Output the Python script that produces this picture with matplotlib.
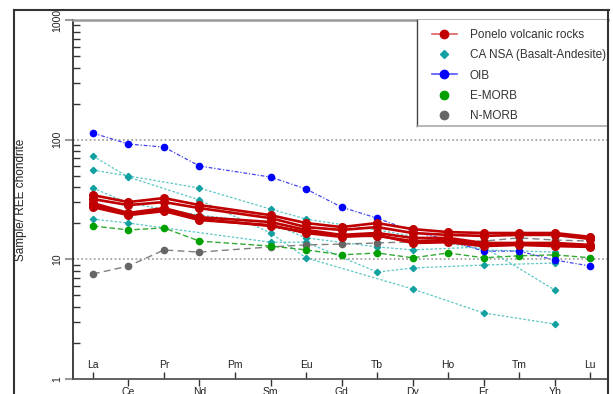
import numpy as np
import matplotlib
matplotlib.use("Agg")
import matplotlib.pyplot as plt
from matplotlib.lines import Line2D
from matplotlib.patches import Rectangle

plt.rcParams['font.family'] = ['Liberation Sans', 'DejaVu Sans']

elements = ["La", "Ce", "Pr", "Nd", "Pm", "Sm", "Eu", "Gd", "Tb", "Dy", "Ho", "Er", "Tm", "Yb", "Lu"]
nan = np.nan

ponelo = [
    [34.4, 30.1, 32.5, 28.4, nan, 23.4, 20.1, 18.6, 20.1, 17.9, 16.9, 16.6, 16.6, 16.6, 15.4],
    [31.9, 28.4, 30.1, 26.8, nan, 22.1, 18.6, 17.6, 18.6, 16.6, 16.0, 15.7, 16.0, 16.0, 14.8],
    [29.5, 24.4, 26.8, 22.5, nan, 20.5, 17.6, 16.0, 16.6, 15.1, 15.1, 13.7, 13.7, 13.7, 13.2],
    [27.3, 23.4, 25.3, 21.3, nan, 19.3, 16.6, 15.4, 16.0, 13.7, 13.9, 12.9, 13.2, 12.9, 12.7],
    [28.4, 23.9, 25.8, 21.7, nan, 19.0, 16.9, 15.7, 15.7, 14.2, 14.5, 13.2, 13.4, 13.2, 12.9],
]

ca_nsa = [
    [72.9, 48.7, nan, 31.3, nan, 16.6, 10.3, nan, nan, 5.65, nan, 3.56, nan, 2.88, nan],
    [55.7, 49.7, nan, 39.4, nan, 26.3, 21.7, nan, 17.6, 15.6, nan, 12.0, nan, 11.5, nan],
    [39.4, 29.5, nan, 23.4, nan, 20.1, 15.1, nan, 12.7, 12.0, nan, 12.7, nan, 5.54, nan],
    [21.7, 20.1, nan, nan, nan, 13.9, 13.9, nan, 7.83, 8.46, nan, 8.96, nan, 9.31, nan],
]

oib = [113.6, 91.9, 86.7, 60.2, nan, 48.7, 38.7, 27.3, 22.1, 17.2, 14.5, 11.7, 11.7, 9.87, 8.79]
emorb = [19.0, 17.6, 18.3, 14.2, nan, 12.9, 12.0, 10.9, 11.3, 10.3, 11.3, 10.3, 10.7, 10.9, 10.3]
nmorb = [7.54, 8.79, 11.96, 11.5, nan, 12.7, 13.2, 13.4, 13.7, 14.0, 14.2, 14.2, 15.1, 14.5, 14.2]

legend_labels = ["Ponelo volcanic rocks", "CA NSA (Basalt-Andesite)", "OIB", "E-MORB", "N-MORB"]

W, H = 613, 394
fig = plt.figure(figsize=(W / 100, H / 100), dpi=100)
ax_l, ax_r, ax_t, ax_b = 73, 608, 20, 379
ax = fig.add_axes([ax_l / W, 1 - ax_b / H, (ax_r - ax_l) / W, (ax_b - ax_t) / H])

x = np.arange(len(elements))


def plot_series(vals, **kw):
    v = np.array(vals, dtype=float)
    m = ~np.isnan(v)
    ax.plot(x[m], v[m], **kw)


teal_line = '#5CC6C6'
teal_mk = '#13A0A0'
for s in ca_nsa:
    plot_series(s, color=teal_line, lw=0.9, ls=(0, (2, 1.5)), marker='D', ms=3.2,
                mfc=teal_mk, mec=teal_mk, zorder=3)

plot_series(nmorb, color='#808080', lw=1.0, ls=(0, (5, 3)), marker='o', ms=4.5,
            mfc='#666666', mec='#666666', zorder=3)
plot_series(emorb, color='#33AA33', lw=1.0, ls=(0, (4, 2)), marker='o', ms=4.5,
            mfc='#00A000', mec='#00A000', zorder=3)
plot_series(oib, color='#4444EE', lw=0.9, ls=(0, (3, 1.5, 1, 1.5)), marker='o', ms=4.5,
            mfc='#0000FF', mec='#0000FF', zorder=3)

for s in ponelo:
    plot_series(s, color='#C00000', lw=1.9, marker='o', ms=5.5, mfc='#C00000',
                mec='#C00000', zorder=4)

ax.set_yscale('log')
ax.set_ylim(1, 1000)
ax.set_xlim(-0.56, 14.5)

for yv in (10, 100):
    ax.axhline(yv, color='#999999', lw=1.2, ls=(0, (1, 1.5)), zorder=1)

# y axis
ax.set_yticks([1, 10, 100, 1000])
ax.set_yticklabels(["1", "10", "100", "1000"], rotation=90, va='center', fontsize=7.5)
ax.tick_params(axis='y', which='major', direction='out', length=6, width=1.5,
               color='#999999', pad=2, labelcolor='#222222')
ax.tick_params(axis='y', which='minor', direction='in', length=5, width=1,
               color='#333333', labelleft=False)

# x axis: alternating labels
major_idx = x[::2]
minor_idx = x[1::2]
ax.set_xticks(major_idx)
ax.set_xticklabels([elements[i] for i in major_idx], fontsize=7.5)
ax.set_xticks(minor_idx, minor=True)
ax.set_xticklabels([elements[i] for i in minor_idx], minor=True, fontsize=7.5)
ax.tick_params(axis='x', which='major', direction='in', length=5, width=1,
               color='#333333', pad=-13.5, labelcolor='#222222')
ax.tick_params(axis='x', which='minor', direction='out', length=5, width=1,
               color='#333333', pad=1, labelcolor='#222222')

ax.spines['top'].set_color('#999999')
ax.spines['top'].set_linewidth(1.8)
ax.spines['left'].set_color('#333333')
ax.spines['left'].set_linewidth(1.3)
ax.spines['bottom'].set_color('#555555')
ax.spines['bottom'].set_linewidth(1.3)
ax.spines['right'].set_color('#333333')
ax.spines['right'].set_linewidth(1.3)

ax.set_ylabel("Sample/ REE chondrite", fontsize=8.5, color='#222222')
ax.yaxis.set_label_coords(-(73 - 27) / (ax_r - ax_l), 0.5)

# legend box
bx0, bx1, by0, by1 = 417, 608, 20, 126


def to_ax(px, py):
    return ((px - ax_l) / (ax_r - ax_l), 1 - (py - ax_t) / (ax_b - ax_t))

lx, ly = to_ax(bx0, by1)
rx, ry = to_ax(bx1, by0)
ax.add_patch(Rectangle((lx, ly), rx - lx, ry - ly, transform=ax.transAxes,
                       facecolor='white', edgecolor='none', zorder=5))
ax.plot([lx, lx], [ly, ry], transform=ax.transAxes, color='#444444', lw=1.0, zorder=6,
        clip_on=False)
ax.plot([lx, rx], [ly, ly], transform=ax.transAxes, color='#aaaaaa', lw=1.2, zorder=6,
        clip_on=False)

handles = [
    Line2D([], [], color='#E06060', lw=1.2, marker='o', ms=6, mfc='#C00000', mec='#C00000'),
    Line2D([], [], ls='none', marker='D', ms=4.5, mfc=teal_mk, mec=teal_mk),
    Line2D([], [], color='#5555FF', lw=1.2, marker='o', ms=6, mfc='#0000FF', mec='#0000FF'),
    Line2D([], [], ls='none', marker='o', ms=6, mfc='#00A000', mec='#00A000'),
    Line2D([], [], ls='none', marker='o', ms=6, mfc='#666666', mec='#666666'),
]
ancx, ancy = to_ax(432, 29)
leg = ax.legend(handles, legend_labels, loc='upper left', bbox_to_anchor=(ancx, ancy),
                frameon=False, borderpad=0, borderaxespad=0, handlelength=2.1,
                handletextpad=1.1, labelspacing=0.7, fontsize=8.5)
leg.set_zorder(7)
for t in leg.get_texts():
    t.set_color('#333333')

# outer frame
fx0, fy0, fx1 = 14, 10, 608
fig.add_artist(Line2D([fx0 / W, fx0 / W], [0, 1 - fy0 / H], color='#333333', lw=1.5))
fig.add_artist(Line2D([fx0 / W, (fx1 + 1) / W], [1 - fy0 / H, 1 - fy0 / H], color='#333333', lw=1.5))
fig.add_artist(Line2D([fx1 / W, fx1 / W], [0, 1 - fy0 / H], color='#333333', lw=1.5))

fig.savefig("out.png", dpi=100)
